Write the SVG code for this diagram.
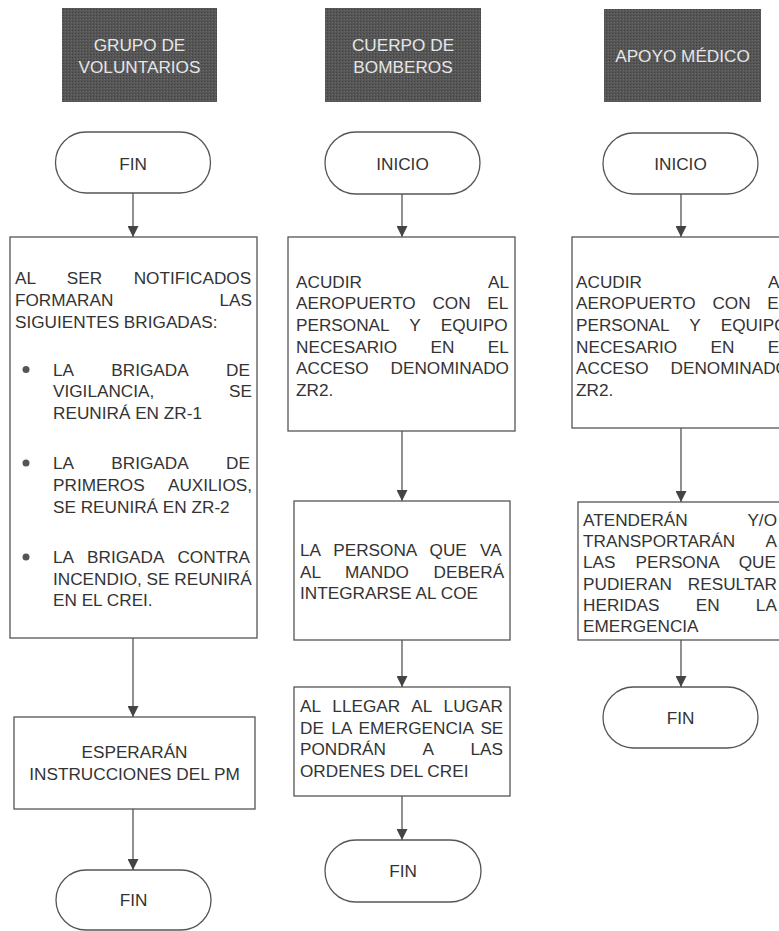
<svg xmlns="http://www.w3.org/2000/svg" width="779" height="931" viewBox="0 0 779 931">
<defs>
<style>
.t{font-family:"Liberation Sans",Arial,sans-serif;font-size:17.2px;fill:#333}
.m{text-anchor:middle}
.e{text-anchor:end}
.ht{font-family:"Liberation Sans",Arial,sans-serif;font-size:17.2px;fill:#e6e6e6;text-anchor:middle}
.hdr{fill:url(#tex)}
.box{fill:#fff;stroke:#555;stroke-width:1.3}
.dot{fill:#555}
.conn line{stroke:#555;stroke-width:1.3;marker-end:url(#ah)}
</style>
<pattern id="tex" width="3" height="3" patternUnits="userSpaceOnUse">
<rect width="3" height="3" fill="#565656"/>
<rect width="1" height="1" fill="#404040"/>
<rect x="2" y="1" width="1" height="1" fill="#6a6a6a"/>
</pattern>
<marker id="ah" viewBox="0 0 12 12" refX="12" refY="6" markerWidth="12" markerHeight="11" markerUnits="userSpaceOnUse" orient="auto">
<path d="M0,0 L12,6 L0,12 z" fill="#444"/>
</marker>
</defs>
<rect width="779" height="931" fill="#fff"/>

<g id="hdr_voluntarios">
<rect class="hdr" x="62" y="8" width="155" height="94"/>
<text class="ht" x="139.5" y="51">GRUPO DE</text>
<text class="ht" x="139.5" y="72.5">VOLUNTARIOS</text>
</g>
<g id="hdr_bomberos">
<rect class="hdr" x="325" y="8" width="156" height="94"/>
<text class="ht" x="403" y="51">CUERPO DE</text>
<text class="ht" x="403" y="72.5">BOMBEROS</text>
</g>
<g id="hdr_medico">
<rect class="hdr" x="604" y="9" width="157" height="93"/>
<text class="ht" x="682.5" y="61.5">APOYO MÉDICO</text>
</g>

<g id="conn" class="conn">
<line x1="133" y1="193" x2="133" y2="237"/>
<line x1="133" y1="638" x2="133" y2="717"/>
<line x1="133" y1="809" x2="133" y2="870"/>
<line x1="402" y1="194" x2="402" y2="237"/>
<line x1="402" y1="431" x2="402" y2="501"/>
<line x1="402" y1="640" x2="402" y2="687"/>
<line x1="402" y1="796" x2="402" y2="840"/>
<line x1="681" y1="194" x2="681" y2="237"/>
<line x1="681" y1="428" x2="681" y2="502"/>
<line x1="681" y1="640" x2="681" y2="687"/>
</g>

<g id="v_fin1">
<rect class="box" x="55.5" y="132" width="155" height="61" rx="30.5"/>
<text class="t m" x="133" y="169.5">FIN</text>
</g>
<g id="v_box1">
<rect class="box" x="10" y="237" width="247" height="401"/>
<text class="t" x="15" y="284" word-spacing="26.7">AL SER NOTIFICADOS</text>
<text class="t" x="15" y="306">FORMARAN</text><text class="t e" x="252" y="306">LAS</text>
<text class="t" x="15" y="327.5">SIGUIENTES BRIGADAS:</text>
<circle class="dot" cx="26" cy="369.5" r="3.5"/>
<text class="t" x="53" y="375.5" word-spacing="33.5">LA BRIGADA DE</text>
<text class="t" x="53" y="397">VIGILANCIA,</text><text class="t e" x="252" y="397">SE</text>
<text class="t" x="53" y="418.5">REUNIRÁ EN ZR-1</text>
<circle class="dot" cx="26" cy="463" r="3.5"/>
<text class="t" x="53" y="469" word-spacing="33.5">LA BRIGADA DE</text>
<text class="t" x="53" y="491">PRIMEROS</text><text class="t e" x="252" y="491">AUXILIOS,</text>
<text class="t" x="53" y="513">SE REUNIRÁ EN ZR-2</text>
<circle class="dot" cx="26" cy="557" r="3.5"/>
<text class="t" x="53" y="563" word-spacing="9.2">LA BRIGADA CONTRA</text>
<text class="t" x="53" y="584.5">INCENDIO, SE REUNIRÁ</text>
<text class="t" x="53" y="606">EN EL CREI.</text>
</g>
<g id="v_box2">
<rect class="box" x="14" y="717" width="241" height="92"/>
<text class="t m" x="134.5" y="758">ESPERARÁN</text>
<text class="t m" x="134.5" y="779.5">INSTRUCCIONES DEL PM</text>
</g>
<g id="v_fin2">
<rect class="box" x="56" y="870" width="155" height="60" rx="30"/>
<text class="t m" x="133.5" y="906">FIN</text>
</g>

<g id="b_inicio">
<rect class="box" x="325" y="132" width="155" height="62" rx="31"/>
<text class="t m" x="402.5" y="169.5">INICIO</text>
</g>
<g id="b_box1">
<rect class="box" x="288" y="237" width="227" height="194"/>
<text class="t" x="296" y="287.5">ACUDIR</text><text class="t e" x="509" y="287.5">AL</text>
<text class="t" x="296" y="309" word-spacing="11.9">AEROPUERTO CON EL</text>
<text class="t" x="296" y="331" word-spacing="15.7">PERSONAL Y EQUIPO</text>
<text class="t" x="296" y="352.5" word-spacing="28.6">NECESARIO EN EL</text>
<text class="t" x="296" y="374">ACCESO</text><text class="t e" x="509" y="374">DENOMINADO</text>
<text class="t" x="296" y="396">ZR2.</text>
</g>
<g id="b_box2">
<rect class="box" x="294" y="501" width="216" height="139"/>
<text class="t" x="300" y="556" word-spacing="8.4">LA PERSONA QUE VA</text>
<text class="t" x="300" y="577.5" word-spacing="19.8">AL MANDO DEBERÁ</text>
<text class="t" x="300" y="599">INTEGRARSE AL COE</text>
</g>
<g id="b_box3">
<rect class="box" x="294" y="687" width="216" height="109"/>
<text class="t" x="300" y="712" word-spacing="7.2">AL LLEGAR AL LUGAR</text>
<text class="t" x="300" y="733.5" word-spacing="2.5">DE LA EMERGENCIA SE</text>
<text class="t" x="300" y="755" word-spacing="32.7">PONDRÁN A LAS</text>
<text class="t" x="300" y="776.5">ORDENES DEL CREI</text>
</g>
<g id="b_fin">
<rect class="box" x="325" y="840" width="156" height="62" rx="31"/>
<text class="t m" x="403" y="877">FIN</text>
</g>

<g id="m_inicio">
<rect class="box" x="603" y="133" width="155" height="61" rx="30.5"/>
<text class="t m" x="680.5" y="169.5">INICIO</text>
</g>
<g id="m_box1">
<rect class="box" x="572" y="237" width="223" height="191"/>
<text class="t" x="576" y="287.5">ACUDIR</text><text class="t e" x="789" y="287.5">AL</text>
<text class="t" x="576" y="309" word-spacing="11.9">AEROPUERTO CON EL</text>
<text class="t" x="576" y="331" word-spacing="15.7">PERSONAL Y EQUIPO</text>
<text class="t" x="576" y="352.5" word-spacing="28.6">NECESARIO EN EL</text>
<text class="t" x="576" y="374">ACCESO</text><text class="t e" x="789" y="374">DENOMINADO</text>
<text class="t" x="576" y="396">ZR2.</text>
</g>
<g id="m_box2">
<rect class="box" x="578" y="502" width="206" height="138"/>
<text class="t" x="583" y="526">ATENDERÁN</text><text class="t e" x="777" y="526">Y/O</text>
<text class="t" x="583" y="547.2">TRANSPORTARÁN</text><text class="t e" x="777" y="547.2">A</text>
<text class="t" x="583" y="568.4" word-spacing="15.3">LAS PERSONA QUE</text>
<text class="t" x="583" y="589.6">PUDIERAN</text><text class="t e" x="777" y="589.6">RESULTAR</text>
<text class="t" x="583" y="610.8" word-spacing="31.5">HERIDAS EN LA</text>
<text class="t" x="583" y="632">EMERGENCIA</text>
</g>
<g id="m_fin">
<rect class="box" x="603" y="687" width="155" height="61" rx="30.5"/>
<text class="t m" x="680.5" y="723.5">FIN</text>
</g>
</svg>
